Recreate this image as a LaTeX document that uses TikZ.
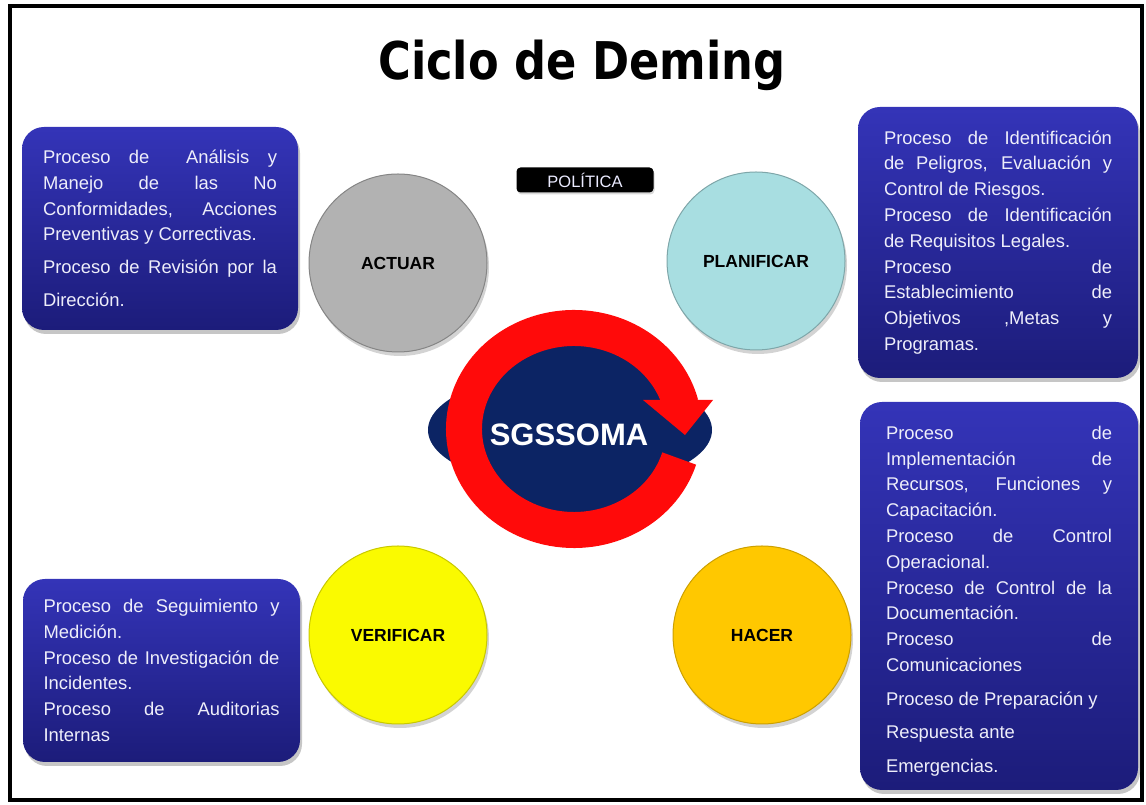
\documentclass[tikz,border=0pt]{standalone}
\usepackage{fontspec}
\setmainfont{Liberation Sans}
\newfontfamily\titlefont{DejaVu Sans}
\usepackage{xcolor}
\usetikzlibrary{shapes,shadows,positioning}

\definecolor{boxtop}{RGB}{52,52,184}
\definecolor{boxbot}{RGB}{28,28,122}
\definecolor{boxtext}{RGB}{238,238,250}
\definecolor{navy}{RGB}{12,36,100}
\definecolor{actgray}{RGB}{178,178,178}
\definecolor{plancyan}{RGB}{168,222,225}
\definecolor{veryellow}{RGB}{250,250,0}
\definecolor{doorange}{RGB}{255,200,0}
\definecolor{ringred}{RGB}{255,10,10}

\begin{document}
\begin{tikzpicture}[x=1pt, y=1pt,
    infobox/.style={rounded corners=22pt, top color=boxtop, bottom color=boxbot,
        text=boxtext, align=justify, inner sep=0pt,
        drop shadow={opacity=0.45, shadow xshift=2pt, shadow yshift=-4pt},
        execute at begin node=\setlength{\parindent}{0pt},
        font=\fontsize{18.4}{25.8}\selectfont},
    phase/.style={circle, minimum size=178pt, inner sep=0pt, line width=1pt,
        drop shadow={opacity=0.35, shadow xshift=2pt, shadow yshift=-4pt},
        font=\bfseries\fontsize{17.5}{20}\selectfont},
    ring/.style={ringred, line width=36pt}
]
    \useasboundingbox (0,0) rectangle (1146,805);
    \draw[line width=4pt] (9.5,4.5) rectangle (1142,798.5);

    % Title
    \node[anchor=base] (title) at (582,725)
        {\titlefont\bfseries\fontsize{52}{60}\selectfont\scalebox{0.86}[1]{Ciclo de Deming}};

    % Process boxes
    \node[infobox, text width=234pt, minimum width=276pt, minimum height=203pt] (actbox) at (160,576.5)
        {Proceso de \ Análisis y\linebreak Manejo de las No\linebreak Conformidades, Acciones\linebreak Preventivas y Correctivas.\par
         {\baselineskip=33pt Proceso de Revisión por la\linebreak Dirección.\par}};
    \node[infobox, text width=228pt, minimum width=280pt, minimum height=271pt] (planbox) at (998,562.5)
        {Proceso de Identificación\linebreak de Peligros, Evaluación y\linebreak Control de Riesgos.\par
         Proceso de Identificación\linebreak de Requisitos Legales.\par
         Proceso de\linebreak Establecimiento de\linebreak Objetivos ,Metas y\linebreak Programas.\par};
    \node[infobox, text width=236pt, minimum width=277pt, minimum height=183pt] (verbox) at (161.5,134.5)
        {Proceso de Seguimiento y\linebreak Medición.\par
         Proceso de Investigación de\linebreak Incidentes.\par
         Proceso de Auditorias\linebreak Internas\par};
    \node[infobox, text width=226pt, minimum width=278pt, minimum height=388pt] (dobox) at (999,209)
        {Proceso de\linebreak Implementación de\linebreak Recursos, Funciones y\linebreak Capacitación.\par
         Proceso de Control\linebreak Operacional.\par
         Proceso de Control de la\linebreak Documentación.\par
         Proceso de\linebreak Comunicaciones\par
         {\baselineskip=33.5pt Proceso de Preparación y\newline Respuesta ante\newline Emergencias.\par}\vspace*{-10pt}};

    % PDCA circles
    \node[phase, fill=actgray, draw=actgray!75!black] (actuar) at (398,542) {ACTUAR};
    \node[phase, fill=plancyan, draw=plancyan!75!black] (planificar) at (756,544) {PLANIFICAR};
    \node[phase, fill=veryellow, draw=veryellow!80!black] (verificar) at (398,170) {VERIFICAR};
    \node[phase, fill=doorange, draw=doorange!80!black] (hacer) at (762,170) {HACER};

    % Policy label
    \node[rounded corners=4pt, fill=black, text=blue!8, minimum width=137pt, minimum height=25pt,
        inner sep=0pt, drop shadow={opacity=0.3, shadow xshift=1pt, shadow yshift=-2pt},
        font=\fontsize{16.5}{18}\selectfont] (politica) at (585,625) {POLÍTICA};

    % Central system with cycle arrow
    \coordinate (hub) at (574,376);
    \fill[navy] (570,375) ellipse[x radius=142pt, y radius=58pt];
    \fill[navy] (hub) ellipse[x radius=112pt, y radius=103pt];
    \draw[ring] (hub) ++(-17:110pt and 101pt) arc[start angle=-17, end angle=-346, x radius=110pt, y radius=101pt];
    \fill[ringred] (643,405) -- (713,405) -- (685,370) -- cycle;
    \node[text=white, font=\bfseries\fontsize{31}{34}\selectfont] (sgssoma) at (569,370) {SGSSOMA};
\end{tikzpicture}
\end{document}
